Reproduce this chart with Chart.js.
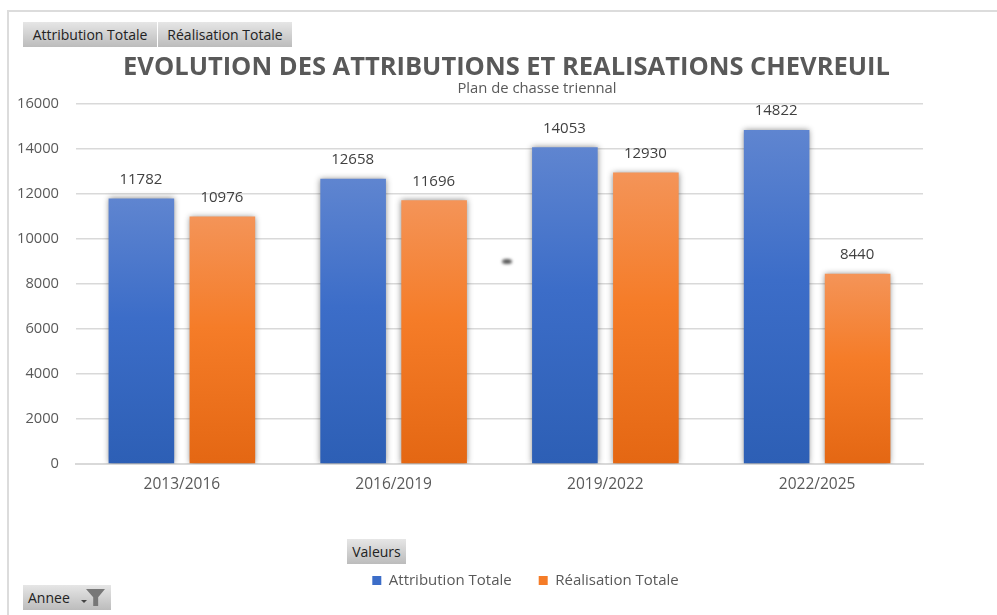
<!DOCTYPE html>
<html lang="fr">
<head>
<meta charset="utf-8">
<title>Evolution des attributions et realisations chevreuil</title>
<script src="https://cdn.jsdelivr.net/npm/chart.js@4"></script>
<style>
    html, body { margin: 0; padding: 0; background: #fff; overflow: hidden; }
    #wrap { position: relative; width: 997px; height: 615px; overflow: hidden; font-family: "Open Sans", sans-serif; }
    #wrap canvas { position: absolute; left: 0; top: 0; }
    .cadre-h { position: absolute; left: 8px; top: 10px; right: 0; height: 2px; background: #dcdcdc; }
    .cadre-v { position: absolute; left: 7px; top: 10px; bottom: 0; width: 2px; background: #dcdcdc; }
    .knop {
        position: absolute; height: 25px; line-height: 25px; box-sizing: border-box;
        background: linear-gradient(#e6e6e6, #bcbcbc); color: #222; font-size: 14px;
        text-align: center; white-space: nowrap;
    }
    .vlek {
        position: absolute; left: 502px; top: 258.5px; width: 10px; height: 5px;
        background: #555; border-radius: 50%; filter: blur(1.5px);
    }
    .trechter { position: absolute; left: 86px; top: 589px; width: 19px; height: 17px; background: #777;
        clip-path: polygon(0 0, 100% 0, 64% 48%, 64% 100%, 38% 100%, 38% 48%); }
    .pijl { position: absolute; left: 81px; top: 600px; width: 6px; height: 3px; background: #444;
        clip-path: polygon(0 0, 100% 0, 50% 100%); }
</style>
</head>
<body>
<div id="wrap">
    <canvas id="js--chart--1" width="997" height="615"></canvas>
    <div class="cadre-h"></div>
    <div class="cadre-v"></div>
    <div class="knop" style="left:23px;top:22px;width:134px">Attribution Totale</div>
    <div class="knop" style="left:158px;top:22px;width:134px">Réalisation Totale</div>
    <div class="knop" style="left:347px;top:539px;width:59px">Valeurs</div>
    <div class="knop" style="left:23px;top:585px;width:88px;text-align:left;padding-left:5px">Annee</div>
    <div class="trechter"></div>
    <div class="pijl"></div>
    <div class="vlek"></div>
</div>
<script>
//Plan de chasse chevreuil
const labels = ["2013/2016", "2016/2019", "2019/2022", "2022/2025"];
const attribution = [11782, 12658, 14053, 14822];
const realisation = [10976, 11696, 12930, 8440];
const yTicks = [0, 2000, 4000, 6000, 8000, 10000, 12000, 14000, 16000];

const blauw = ['#5f85d0', '#3c6dc8', '#2d5fb5'];
const oranje = ['#f49458', '#f57c28', '#e46713'];

// verloop per staaf, van bovenkant staaf naar de as
function verloop(context, kleuren) {
    const chart = context.chart;
    if (!chart.chartArea || context.raw === undefined) return kleuren[1];
    const top = chart.scales.y.getPixelForValue(context.raw);
    const g = chart.ctx.createLinearGradient(0, top, 0, chart.chartArea.bottom);
    g.addColorStop(0, kleuren[0]);
    g.addColorStop(0.45, kleuren[1]);
    g.addColorStop(1, kleuren[2]);
    return g;
}

const schaduw = {
    id: 'schaduw',
    beforeDatasetsDraw(chart) {
        const ctx = chart.ctx;
        ctx.save();
        ctx.shadowColor = 'rgba(0,0,0,0.45)';
        ctx.shadowBlur = 6;
    },
    afterDatasetsDraw(chart) {
        chart.ctx.restore();
    }
};

// waarden boven de staven
const waarden = {
    id: 'waarden',
    afterDatasetsDraw(chart) {
        const ctx = chart.ctx;
        ctx.save();
        ctx.font = '15px "Open Sans"';
        ctx.fillStyle = '#404040';
        ctx.textAlign = 'center';
        ctx.textBaseline = 'middle';
        chart.data.datasets.forEach((ds, i) => {
            chart.getDatasetMeta(i).data.forEach((bar, j) => {
                ctx.fillText(ds.data[j], bar.x - 0.5, bar.y - 19);
            });
        });
        ctx.restore();
    }
};

// titel, ondertitel en legenda staan niet in het midden van de canvas
const verschuif = {
    id: 'verschuif',
    afterLayout(chart) {
        chart.boxes.forEach(box => {
            let dx = 0;
            if (box === chart.titleBlock) dx = 45;
            else if (box === chart.legend) dx = 64;
            else if (box.options && box.options.text === 'Plan de chasse triennal') dx = 75.5;
            box.left += dx;
            box.right += dx;
        });
    }
};

const data = {
    labels: labels,
    datasets: [
        {
            label: "Attribution Totale",
            data: attribution,
            backgroundColor: ctx => verloop(ctx, blauw),
            hoverBackgroundColor: ctx => verloop(ctx, blauw),
        },
        {
            label: "Réalisation Totale",
            data: realisation,
            backgroundColor: ctx => verloop(ctx, oranje),
            hoverBackgroundColor: ctx => verloop(ctx, oranje),
        }
    ]
};

const config = {
    type: 'bar',
    data: data,
    plugins: [verschuif, schaduw, waarden],
    options: {
        responsive: false,
        animation: false,
        categoryPercentage: 0.765,
        barPercentage: 0.81,
        layout: { padding: { left: 0, right: 74, top: 52, bottom: 17 } },
        plugins: {
            tooltip: { enabled: false },
            title: {
                display: true,
                text: "EVOLUTION DES ATTRIBUTIONS ET REALISATIONS CHEVREUIL",
                color: '#595959',
                font: { family: '"Open Sans"', size: 25.5, weight: 'bold' },
                padding: { top: 0, bottom: -3 },
            },
            subtitle: {
                display: true,
                text: "Plan de chasse triennal",
                color: '#595959',
                font: { family: '"Open Sans"', size: 14.8 },
                padding: { top: 0, bottom: 6 },
            },
            legend: {
                position: 'bottom',
                labels: {
                    boxWidth: 9,
                    boxHeight: 9,
                    padding: 27,
                    color: '#595959',
                    font: { family: '"Open Sans"', size: 15 },
                    generateLabels(chart) {
                        const items = Chart.defaults.plugins.legend.labels.generateLabels(chart);
                        items[0].fillStyle = blauw[1];
                        items[1].fillStyle = oranje[1];
                        return items;
                    },
                },
            },
        },
        scales: {
            x: {
                grid: { display: false },
                border: { color: '#d9d9d9', width: 2 },
                ticks: { color: '#595959', font: { family: '"Open Sans"', size: 15.5 }, padding: 3, maxRotation: 0 },
                afterFit(scale) { scale.height = 82; },
            },
            y: {
                min: 0,
                max: 16000,
                afterBuildTicks(scale) { scale.ticks = yTicks.map(v => ({ value: v })); },
                grid: { color: '#d9d9d9', lineWidth: 1.5, tickLength: 0 },
                border: { display: false },
                ticks: {
                    color: '#595959',
                    font: { family: '"Open Sans"', size: 14.7 },
                    padding: 17,
                    callback: v => String(v),
                },
                afterFit(scale) { scale.width = 76; },
            },
        },
    },
};

const chart1 = new Chart(document.getElementById("js--chart--1"), config);
</script>
</body>
</html>
